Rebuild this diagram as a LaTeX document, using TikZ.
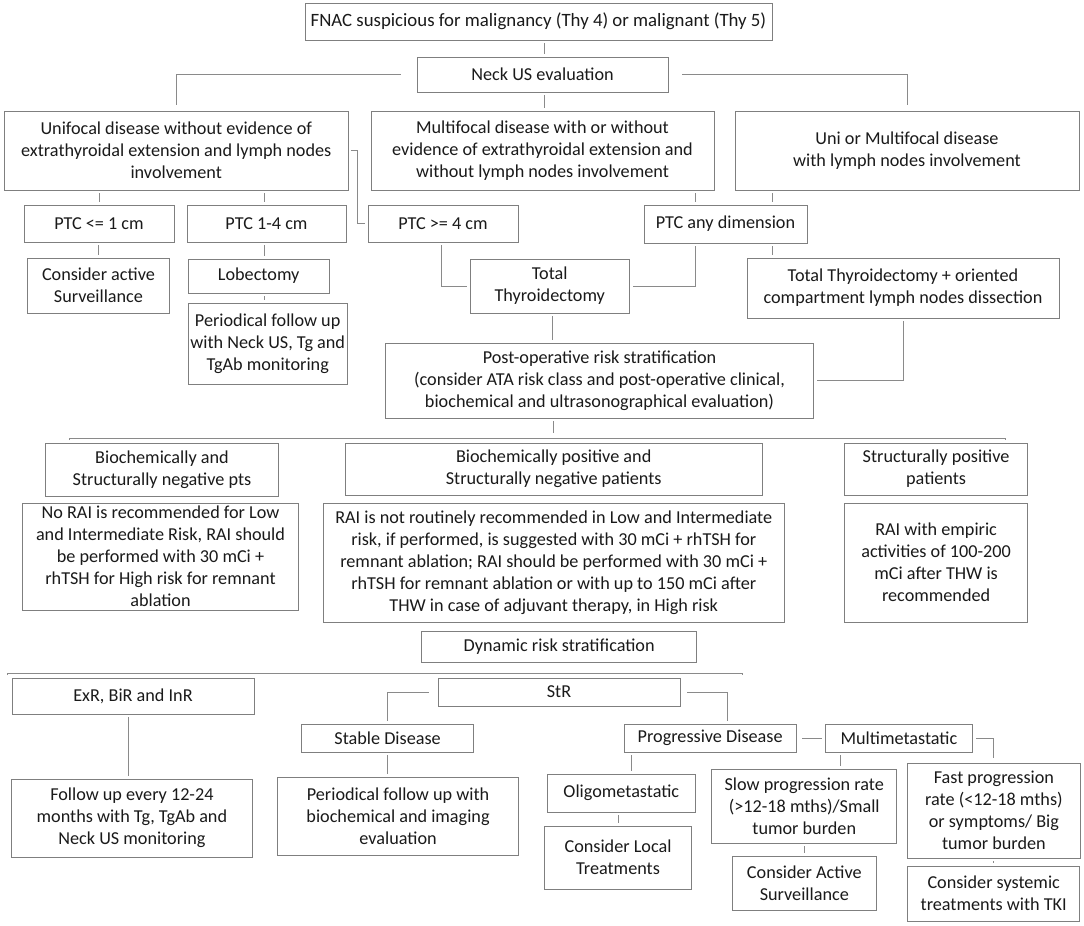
\documentclass[tikz,border=0pt]{standalone}
\usepackage{fontspec}
\setmainfont{Carlito}
\usetikzlibrary{calc}
\definecolor{ln}{HTML}{8A8A8A}
\definecolor{bd}{HTML}{7F7F7F}
\definecolor{tx}{HTML}{1A1A1A}
\tikzset{
  box/.style={draw=bd,line width=0.9pt,fill=white,inner sep=0pt,align=center,text=tx,font=\fontsize{18.2}{22}\selectfont},
  conn/.style={draw=ln,line width=0.9pt,shorten <=3pt,shorten >=3pt},
  hl/.style={draw=ln,line width=0.9pt}
}
\newcommand\bx[6]{%
  \pgfmathsetmacro\myBW{#4-#2}%
  \pgfmathsetmacro\myBH{#5-#3}%
  \pgfmathsetmacro\myCX{(#2+#4)/2}%
  \pgfmathsetmacro\myCY{(#3+#5)/2}%
  \node[box,minimum width=\myBW pt,minimum height=\myBH pt] (#1) at (\myCX,\myCY) {#6};}
\begin{document}
\begin{tikzpicture}[x=1pt,y=-1pt]
\fill[white] (0,0) rectangle (1084,926);
\useasboundingbox (0,0) rectangle (1084,926);

\bx{fnac}{305}{3}{772}{40}{\fontsize{18.8}{22}\selectfont FNAC suspicious for malignancy (Thy 4) or malignant (Thy 5)}
\bx{neck}{417}{57}{668}{92}{Neck US evaluation}
\bx{unif}{4}{111}{348.5}{190}{Unifocal disease without evidence of\\extrathyroidal extension and lymph nodes\\involvement}
\bx{multif}{371}{111}{714}{190}{Multifocal disease with or without\\evidence of extrathyroidal extension and\\without lymph nodes involvement}
\bx{unimulti}{735}{111}{1079}{190}{Uni or Multifocal disease\\with lymph nodes involvement}
\bx{ptc1}{24}{205}{174}{242}{PTC <= 1 cm}
\bx{ptc14}{187}{205}{346}{242}{PTC 1-4 cm}
\bx{ptc4}{368}{205}{518}{242}{PTC >= 4 cm}
\bx{ptcany}{644}{205}{807}{243}{PTC any dimension}
\bx{active}{27.5}{258}{169.4}{313}{Consider active\\Surveillance}
\bx{lobe}{188.4}{259}{329}{293}{Lobectomy}
\bx{per1}{188.4}{303}{347}{384}{Periodical follow up\\with Neck US, Tg and\\TgAb monitoring}
\bx{tt}{470}{259}{629.5}{313}{Total\\Thyroidectomy}
\bx{tto}{747}{258}{1059}{318}{Total Thyroidectomy + oriented\\compartment lymph nodes dissection}
\bx{postop}{385.7}{343}{813.4}{418}{Post-operative risk stratification\\(consider ATA risk class and post-operative clinical,\\biochemical and ultrasonographical evaluation)}
\bx{bneg}{45.8}{443}{278.2}{496}{Biochemically and\\Structurally negative pts}
\bx{bpos}{345.4}{443}{762}{495}{Biochemically positive and\\Structurally negative patients}
\bx{spos}{844.7}{443}{1027.5}{495}{Structurally positive\\patients}
\bx{norai}{22.4}{503}{298.6}{610}{\fontsize{18.2}{21.4}\selectfont No RAI is recommended for Low\\and Intermediate Risk, RAI should\\be performed with 30 mCi +\\rhTSH for High risk for remnant\\ablation}
\bx{raimid}{323.5}{503}{784}{622}{RAI is not routinely recommended in Low and Intermediate\\risk, if performed, is suggested with 30 mCi + rhTSH for\\remnant ablation; RAI should be performed with 30 mCi +\\rhTSH for remnant ablation or with up to 150 mCi after\\THW in case of adjuvant therapy, in High risk}
\bx{raiemp}{844.7}{503}{1027.5}{622}{RAI with empiric\\activities of 100-200\\mCi after THW is\\recommended}
\bx{dyn}{421.8}{631}{696.5}{662}{Dynamic risk stratification}
\bx{exr}{12}{678}{254}{714}{ExR, BiR and InR}
\bx{str}{438}{678}{680}{706}{StR}
\bx{stable}{301.7}{724}{473.5}{752}{Stable Disease}
\bx{per2}{277.5}{777}{518.6}{855}{Periodical follow up with\\biochemical and imaging\\evaluation}
\bx{follow}{11.4}{779}{252.4}{857}{Follow up every 12-24\\months with Tg, TgAb and\\Neck US monitoring}
\bx{pd}{624.3}{724}{796}{752}{Progressive Disease}
\bx{multi}{825.2}{724}{972.7}{752}{Multimetastatic}
\bx{oligo}{547.6}{774}{695}{812}{Oligometastatic}
\bx{local}{544.5}{826}{691.6}{889}{Consider Local\\Treatments}
\bx{slow}{711.8}{769}{896.7}{843}{Slow progression rate\\(>12-18 mths)/Small\\tumor burden}
\bx{active2}{732}{856}{876.6}{910}{Consider Active\\Surveillance}
\bx{fast}{907.8}{763}{1080}{858}{Fast progression\\rate (<12-18 mths)\\or symptoms/ Big\\tumor burden}
\bx{sys}{907.8}{866}{1079.6}{921}{Consider systemic\\treatments with TKI}

% top connectors
\draw[conn,shorten <=16pt,shorten >=6pt] (neck.west) -| (unif.north);
\draw[conn,shorten <=14pt,shorten >=6pt] (neck.east) -| (unimulti.north);
\draw[conn] ([xshift=1.5pt]neck.north |- fnac.south) -- ([xshift=1.5pt]neck.north);
\draw[conn] ([xshift=1.5pt]neck.south) -- ([xshift=1.5pt]neck.south |- multif.north);
\draw[conn] (ptc1.north |- unif.south) -- (ptc1.north);
\draw[conn] ([xshift=-2pt]ptc14.north |- unif.south) -- ([xshift=-2pt]ptc14.north);
\draw[conn,shorten <=2pt] (unif.east) -| ([xshift=-10pt]ptc4.west) -- (ptc4.west);
\draw[conn] (active.north |- ptc1.south) -- (active.north);
\draw[conn] ([xshift=-2pt]ptc14.south) -- ([xshift=-2pt]ptc14.south |- lobe.north);
\draw[conn] ([xshift=-2pt]ptc14.south |- lobe.south) -- ([xshift=-2pt]ptc14.south |- per1.north);
\draw[conn] ([xshift=-2pt]ptc4.south) |- (tt.west);
\draw[conn] ([xshift=-30.5pt]ptcany.north |- multif.south) -- ([xshift=-30.5pt]ptcany.north);
\draw[conn] ([xshift=46.5pt]ptcany.north |- unimulti.south) -- ([xshift=46.5pt]ptcany.north);
\draw[conn] ([xshift=-30.5pt]ptcany.south) |- (tt.east);
\draw[conn] ([xshift=46.5pt]ptcany.south) -- ([xshift=46.5pt]ptcany.south |- tto.north);
\draw[conn] ([xshift=3pt]tt.south) -- ([xshift=3pt]tt.south |- postop.north);
\draw[conn] (tto.south) |- (postop.east);

% post-operative branch line
\coordinate (h1L) at (69,438);
\coordinate (h1R) at (1005,438);
\draw[hl] ([yshift=-2pt]h1L) -- (h1L) -- (h1R) -- ([yshift=-2pt]h1R);
\draw[conn,shorten >=5pt] ([xshift=-46.5pt]postop.south) -- ([xshift=-46.5pt]postop.south |- h1L);

% dynamic branch line
\coordinate (h2L) at (7,673);
\coordinate (h2R) at (742.5,673);
\draw[hl] ([yshift=-2pt]h2L) -- (h2L) -- (h2R) -- ([yshift=-2pt]h2R);

\draw[conn] ([xshift=-5pt]exr.south) -- ([xshift=-5pt]exr.south |- follow.north);
\draw[conn,shorten <=9pt] (str.west) -| (stable.north);
\draw[conn] (stable.south) -- (stable.south |- per2.north);
\draw[conn,shorten <=7pt] (str.east) -| ([xshift=17pt]pd.north);
\draw[conn,shorten <=6pt] (pd.east) -- (multi.west);
\draw[conn,shorten >=5pt] (multi.east) -| (fast.north);
\draw[conn] ([xshift=8pt]pd.south west) -- ([xshift=8pt]pd.south west |- oligo.north);
\draw[conn] (local.north |- oligo.south) -- (local.north);
\draw[conn] ([xshift=16pt]multi.south west) -- ([xshift=16pt]multi.south west |- slow.north);
\draw[conn] (slow.south) -- (slow.south |- active2.north);
\draw[conn] (fast.south) -- (fast.south |- sys.north);
\end{tikzpicture}
\end{document}
